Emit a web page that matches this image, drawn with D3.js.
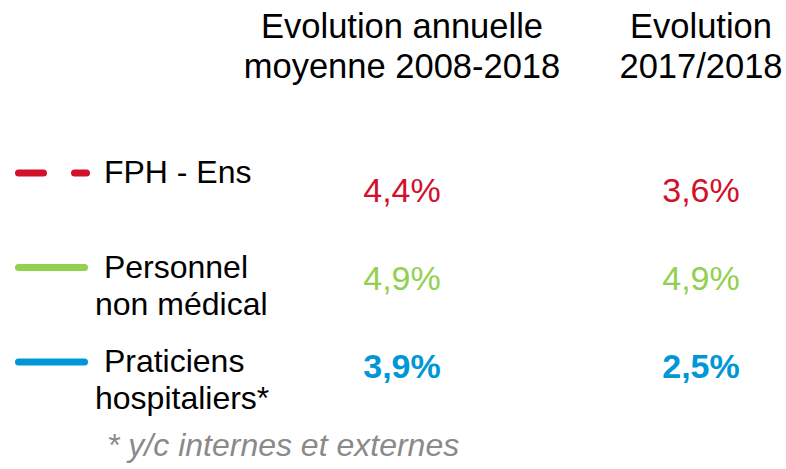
<!DOCTYPE html>
<html>
<head>
	<meta charset="utf-8">
	<title>Evolution FPH</title>
	<script src="https://cdn.jsdelivr.net/npm/d3@7"></script>
	<style>
		body { margin: 0; background: #fff; }
		svg text { font-family: "Liberation Sans", Arial, sans-serif; }
	</style>
</head>
<body>
	<div id="chart"></div>
	<script type="text/javascript">
		// data
		var categories = ["FPH - Ens", "Personnel non médical", "Praticiens hospitaliers*"];
		var labelLines = [[" FPH - Ens"], [" Personnel", "non médical"], [" Praticiens", "hospitaliers*"]];
		var evolAnnuelle = [4.4, 4.9, 3.9];
		var evol2017 = [3.6, 4.9, 2.5];
		var columnHeaders = [["Evolution annuelle", "moyenne 2008-2018"], ["Evolution", "2017/2018"]];
		var colors = ["#d2102b", "#92d050", "#0097d7"];
		var footnote = "* y/c internes et externes";

		var width = 786, height = 469;

		var svg = d3.select("#chart")
					.append("svg")
					.attr("width", width)
					.attr("height", height);

		var fr = d3.formatLocale({decimal: ",", thousands: " ", grouping: [3], currency: ["", " €"]});
		var fmt = fr.format(".1f");

		// column x positions
		var x = d3.scalePoint()
				.domain([0, 1])
				.range([402, 701]);

		// rows : legend lines / labels, and values
		var yLegend = d3.scalePoint()
					.domain(categories)
					.range([173, 362]);

		var yValue = d3.scalePoint()
					.domain(categories)
					.range([202, 378]);

		var color = d3.scaleOrdinal()
					.domain(categories)
					.range(colors);

		// headers
		var headers = svg.selectAll(".header")
						.data(columnHeaders)
						.enter()
							.append("text")
							.attr("class", "header")
							.attr("text-anchor", "middle")
							.attr("font-size", "34.5px")
							.attr("fill", "#000");

		headers.selectAll("tspan")
			.data(function(d, i) { return d.map(function(t) { return {t: t, i: i}; }); })
			.enter()
				.append("tspan")
				.attr("x", function(d) { return x(d.i); })
				.attr("y", function(d, j) { return 38 + j * 40; })
				.text(function(d) { return d.t; });

		// legend
		var rows = svg.selectAll(".row")
					.data(categories)
					.enter()
						.append("g")
						.attr("class", "row");

		rows.append("line")
			.attr("x1", 18.5)
			.attr("x2", function(d, i) { return i == 0 ? 86.5 : 84.5; })
			.attr("y1", function(d) { return yLegend(d); })
			.attr("y2", function(d) { return yLegend(d); })
			.attr("stroke", function(d) { return color(d); })
			.attr("stroke-width", 7)
			.attr("stroke-linecap", "round")
			.attr("stroke-dasharray", function(d, i) { return i == 0 ? "25,31" : null; });

		var labels = rows.append("text")
						.attr("font-size", "32px")
						.attr("fill", "#000")
						.attr("xml:space", "preserve")
						.style("white-space", "pre");

		labels.selectAll("tspan")
			.data(function(d, i) { return labelLines[i].map(function(t) { return {t: t, c: d}; }); })
			.enter()
				.append("tspan")
				.attr("x", 95)
				.attr("y", function(d, j) { return yLegend(d.c) + 10 + j * 37; })
				.text(function(d) { return d.t; });

		// values
		[evolAnnuelle, evol2017].forEach(function(values, col) {
			svg.selectAll(".val" + col)
				.data(values)
				.enter()
					.append("text")
					.attr("class", "val" + col)
					.attr("x", x(col))
					.attr("y", function(d, i) { return yValue(categories[i]); })
					.attr("text-anchor", "middle")
					.attr("font-size", "34px")
					.attr("font-weight", function(d, i) { return i == 2 ? "bold" : "normal"; })
					.attr("fill", function(d, i) { return color(categories[i]); })
					.text(function(d) { return fmt(d) + "%"; });
		});

		// footnote
		svg.append("text")
			.attr("x", 107)
			.attr("y", 456)
			.attr("font-size", "32px")
			.attr("font-style", "italic")
			.attr("fill", "#8a8a8a")
			.text(footnote);
	</script>
</body>
</html>
